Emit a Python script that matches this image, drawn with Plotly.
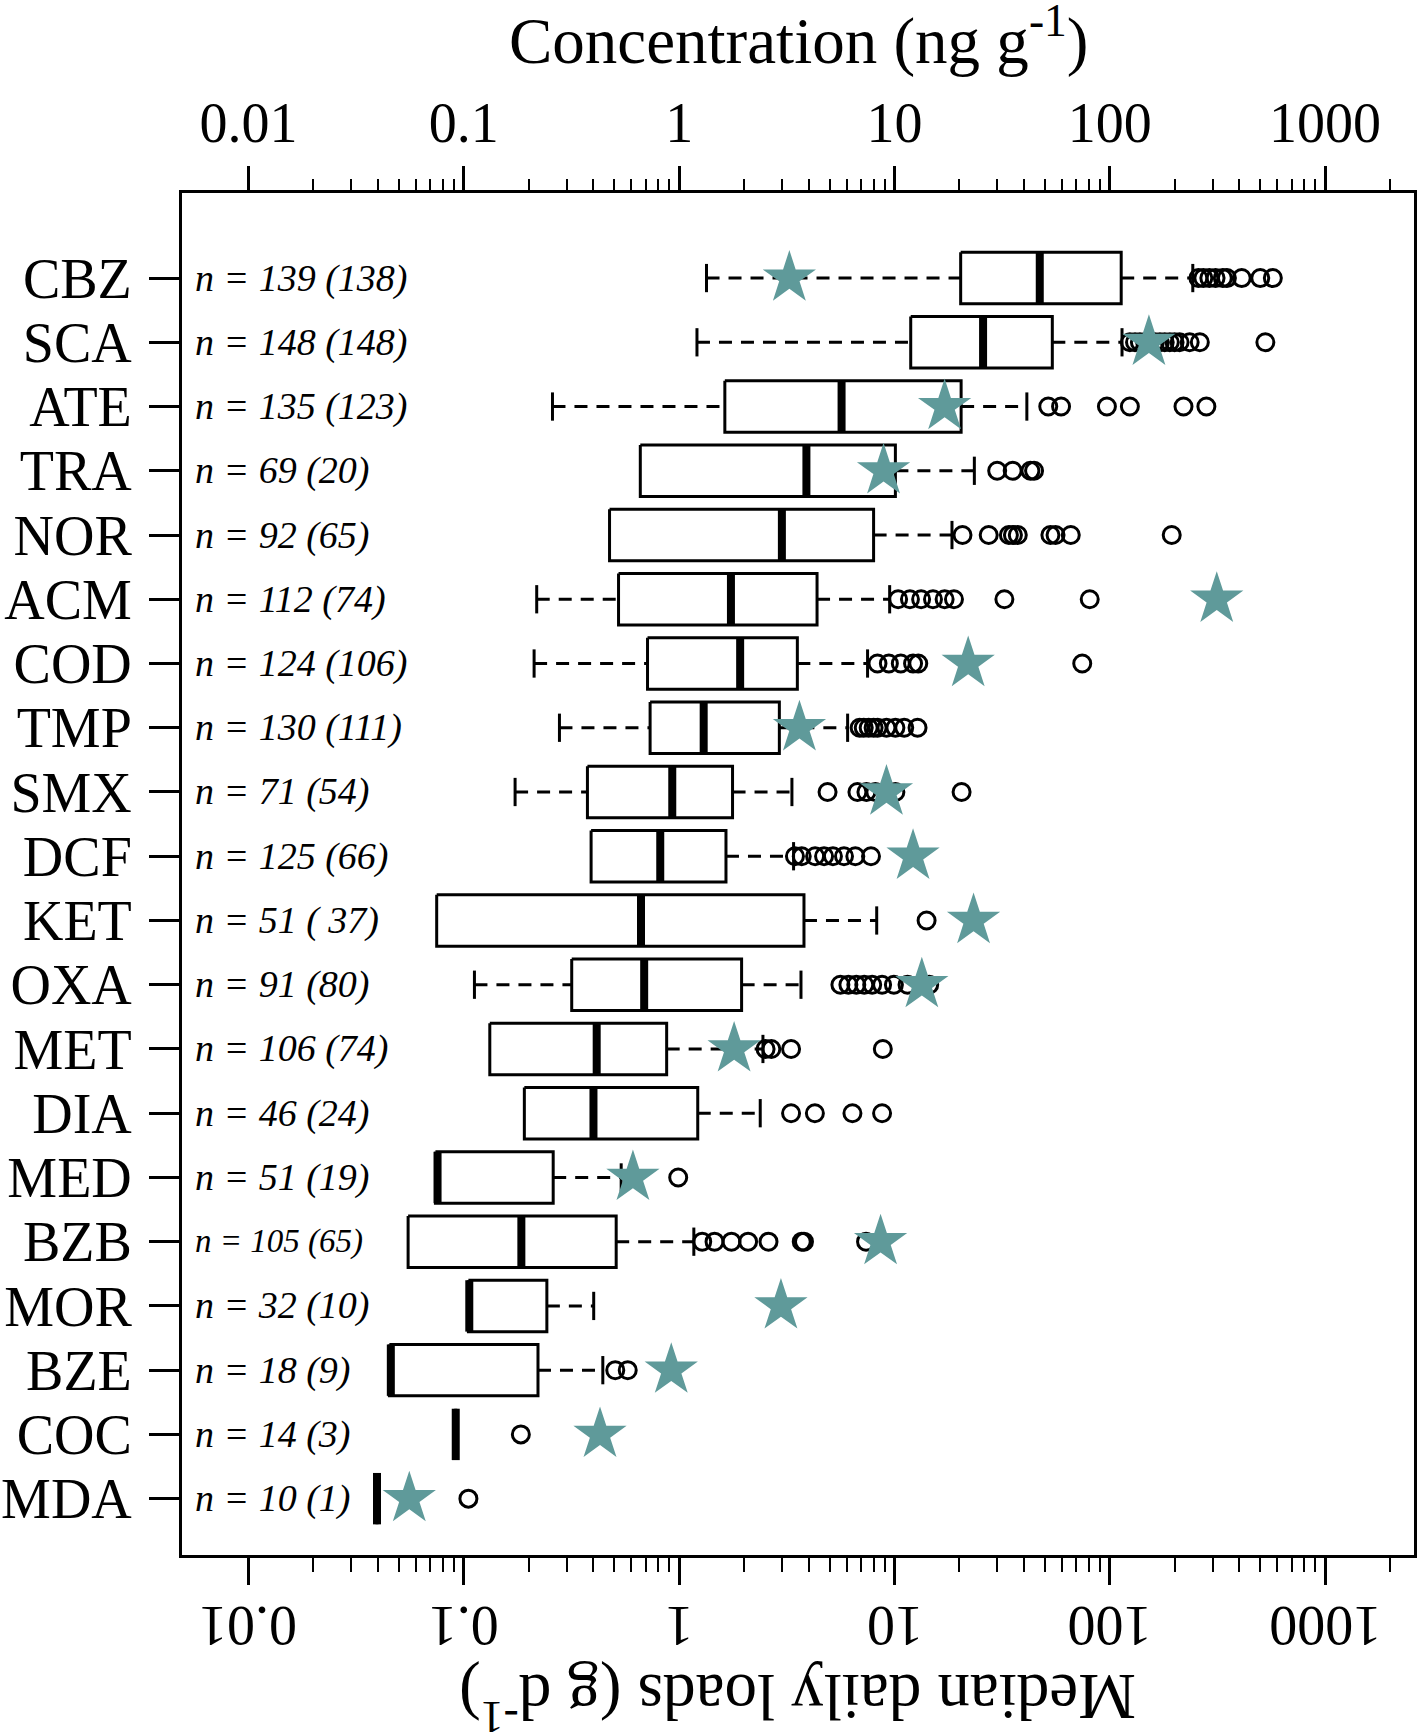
import math
import plotly.graph_objects as go

# ---------------- data ----------------
compounds = ["CBZ", "SCA", "ATE", "TRA", "NOR", "ACM", "COD", "TMP", "SMX", "DCF",
             "KET", "OXA", "MET", "DIA", "MED", "BZB", "MOR", "BZE", "COC", "MDA"]

n_labels = ["n = 139 (138)", "n = 148 (148)", "n = 135 (123)", "n = 69 (20)", "n = 92 (65)",
            "n = 112 (74)", "n = 124 (106)", "n = 130 (111)", "n = 71 (54)", "n = 125 (66)",
            "n = 51 ( 37)", "n = 91 (80)", "n = 106 (74)", "n = 46 (24)", "n = 51 (19)",
            "n = 105 (65)", "n = 32 (10)", "n = 18 (9)", "n = 14 (3)", "n = 10 (1)"]

# concentration box statistics (ng g-1)
whisker_low = [1.34, 1.21, 0.258, 0.66, 0.475, 0.218, 0.212, 0.278, 0.173, 0.39,
               0.0748, 0.112, 0.132, 0.191, 0.0738, 0.0551, 0.105, 0.0451, 0.0917, 0.0395]
q1 = [20.3, 11.9, 1.63, 0.66, 0.475, 0.523, 0.713, 0.733, 0.375, 0.39,
      0.0748, 0.317, 0.132, 0.191, 0.0738, 0.0551, 0.105, 0.0451, 0.0917, 0.0395]
median = [47.3, 25.8, 5.68, 3.9, 3.0, 1.74, 1.92, 1.30, 0.929, 0.817,
          0.665, 0.688, 0.414, 0.40, 0.0755, 0.185, 0.106, 0.0458, 0.0917, 0.0395]
q3 = [113, 54.1, 20.4, 10.1, 8.0, 4.37, 3.54, 2.92, 1.77, 1.65,
      3.80, 1.95, 0.875, 1.22, 0.26, 0.51, 0.243, 0.221, 0.0917, 0.0395]
whisker_high = [243, 114, 41.2, 23.5, 18.5, 9.5, 7.5, 6.06, 3.34, 3.40,
                8.27, 3.68, 2.45, 2.38, 0.538, 1.17, 0.401, 0.442, 0.0917, 0.0395]
outliers = [
    [258, 272, 290, 310, 335, 350, 410, 500, 572],
    [124, 131, 138, 146, 153, 162, 171, 180, 190, 200, 211, 235, 262, 528],
    [51.8, 59.4, 97, 124, 220, 281],
    [30, 35.4, 42.8, 44.5],
    [20.7, 27.4, 34.0, 35.5, 37.4, 53.0, 56.0, 65.9, 194],
    [10.4, 11.8, 13.3, 15.1, 17.1, 18.9, 32.4, 80.7],
    [8.34, 9.42, 10.7, 12.2, 12.9, 74.5],
    [6.89, 7.2, 7.59, 8.0, 8.35, 9.18, 10.1, 11.1, 12.8],
    [4.89, 6.73, 7.41, 8.15, 9.18, 10.1, 20.5],
    [3.45, 3.71, 4.28, 4.71, 5.18, 5.83, 6.58, 7.78],
    [14.1],
    [5.61, 6.11, 6.65, 7.24, 7.88, 8.76, 9.94, 11.5, 14.5],
    [2.52, 2.68, 3.31, 8.83],
    [3.31, 4.27, 6.38, 8.76],
    [0.99],
    [1.28, 1.46, 1.75, 2.09, 2.60, 3.71, 3.80, 7.38],
    [],
    [0.505, 0.577],
    [0.184],
    [0.105],
]
# median daily loads (g d-1), None = not shown
median_daily_load = [3.25, 152, 17.1, 8.9, None, 314, 22.0, 3.62, 9.18, 12.2,
                     23.3, 13.4, 1.80, None, 0.61, 8.62, 2.97, 0.919, 0.429, 0.0558]

axis_ticks = [0.01, 0.1, 1, 10, 100, 1000]
axis_tick_text = ["0.01", "0.1", "1", "10", "100", "1000"]
minor_ticks = [m * 10 ** k for k in range(-2, 4) for m in range(2, 10)]

# ---------------- styles ----------------
FONT = "Liberation Serif"
BOX_H = 0.40
CAP_H = 0.22
STAR_COLOR = "#5F9A9A"

pos = list(range(len(compounds)))

box_x, box_y = [], []
med_x, med_y = [], []
wh_x, wh_y = [], []
cap_x, cap_y = [], []
out_x, out_y = [], []
for i in pos:
    a, b = q1[i], q3[i]
    box_x += [a, b, b, a, a, None]
    box_y += [i - BOX_H, i - BOX_H, i + BOX_H, i + BOX_H, i - BOX_H, None]
    med_x += [median[i], median[i], None]
    med_y += [i - BOX_H, i + BOX_H, None]
    if whisker_low[i] < q1[i]:
        wh_x += [whisker_low[i], q1[i], None]
        wh_y += [i, i, None]
        cap_x += [whisker_low[i], whisker_low[i], None]
        cap_y += [i - CAP_H, i + CAP_H, None]
    if whisker_high[i] > q3[i]:
        wh_x += [q3[i], whisker_high[i], None]
        wh_y += [i, i, None]
        cap_x += [whisker_high[i], whisker_high[i], None]
        cap_y += [i - CAP_H, i + CAP_H, None]
    for o in outliers[i]:
        out_x.append(o)
        out_y.append(i)

star_x = [v for v in median_daily_load if v is not None]
star_y = [i for i, v in zip(pos, median_daily_load) if v is not None]

fig = go.Figure()
fig.add_trace(go.Scatter(x=wh_x, y=wh_y, mode="lines", xaxis="x",
                         line=dict(color="black", width=3, dash="13px,9px"),
                         hoverinfo="skip", showlegend=False))
fig.add_trace(go.Scatter(x=cap_x, y=cap_y, mode="lines", xaxis="x",
                         line=dict(color="black", width=3),
                         hoverinfo="skip", showlegend=False))
fig.add_trace(go.Scatter(x=box_x, y=box_y, mode="lines", xaxis="x",
                         line=dict(color="black", width=3),
                         fill="toself", fillcolor="white",
                         hoverinfo="skip", showlegend=False))
fig.add_trace(go.Scatter(x=med_x, y=med_y, mode="lines", xaxis="x",
                         line=dict(color="black", width=8),
                         hoverinfo="skip", showlegend=False))
fig.add_trace(go.Scatter(x=out_x, y=out_y, mode="markers", xaxis="x",
                         marker=dict(symbol="circle-open", size=17, color="black",
                                     line=dict(width=3, color="black")),
                         showlegend=False))
fig.add_trace(go.Scatter(x=star_x, y=star_y, mode="markers", xaxis="x2",
                         marker=dict(symbol="star", size=40, color=STAR_COLOR,
                                     line=dict(width=0)),
                         showlegend=False))

for i in pos:
    size = 33 if compounds[i] == "BZB" else 38
    fig.add_annotation(x=0.009, xref="paper", y=i, yref="y", xanchor="left",
                       yanchor="middle", showarrow=False,
                       text="<i>" + n_labels[i] + "</i>",
                       font=dict(family=FONT, size=size, color="black"))

# upside-down tick labels of the bottom axis
for v, t in zip(axis_ticks, axis_tick_text):
    fig.add_annotation(x=math.log10(v), xref="x", y=-0.0525, yref="paper",
                       xanchor="center", yanchor="middle", showarrow=False,
                       textangle=180, text=t,
                       font=dict(family=FONT, size=56, color="black"))

xr = [-2.309, 3.413]
common_x = dict(type="log", range=xr, tickmode="array", tickvals=axis_ticks,
                ticktext=axis_tick_text, showgrid=False, zeroline=False,
                showline=True, linecolor="black", linewidth=3,
                ticks="outside", tickcolor="black", tickwidth=2.5,
                tickfont=dict(family=FONT, size=56, color="black"))

fig.update_layout(
    width=1418, height=1732,
    margin=dict(l=182, r=4, t=193, b=177, autoexpand=False),
    paper_bgcolor="white", plot_bgcolor="white",
    xaxis=dict(**common_x, side="bottom", ticklen=27, showticklabels=False,
               minor=dict(tickmode="array", tickvals=minor_ticks, ticks="outside",
                          ticklen=14, tickwidth=2, tickcolor="black", showgrid=False)),
    xaxis2=dict(**common_x, side="top", overlaying="x", anchor="y", ticklen=24,
                ticklabelstandoff=2,
                minor=dict(tickmode="array", tickvals=minor_ticks, ticks="outside",
                           ticklen=11, tickwidth=2, tickcolor="black", showgrid=False)),
    yaxis=dict(range=[19.877, -1.324], tickmode="array", tickvals=pos,
               ticktext=compounds, showgrid=False, zeroline=False,
               showline=True, mirror=True, linecolor="black", linewidth=3,
               ticks="outside", ticklen=30, tickwidth=3, tickcolor="black",
               ticklabelstandoff=6,
               tickfont=dict(family=FONT, size=56, color="black")),
    font=dict(family=FONT, color="black"),
)

fig.add_annotation(x=0.5, xref="paper", y=1.115, yref="paper", showarrow=False,
                   xanchor="center", yanchor="middle",
                   text="Concentration (ng g<sup>-1</sup>)",
                   font=dict(family=FONT, size=65, color="black"))
fig.add_annotation(x=0.5, xref="paper", y=-0.108, yref="paper", showarrow=False,
                   xanchor="center", yanchor="middle", textangle=180,
                   text="Median daily loads (g d<sup>-1</sup>)",
                   font=dict(family=FONT, size=65, color="black"))

fig.write_html("out.html", config={"displayModeBar": False},
               post_script="document.body.style.margin='0px';")
